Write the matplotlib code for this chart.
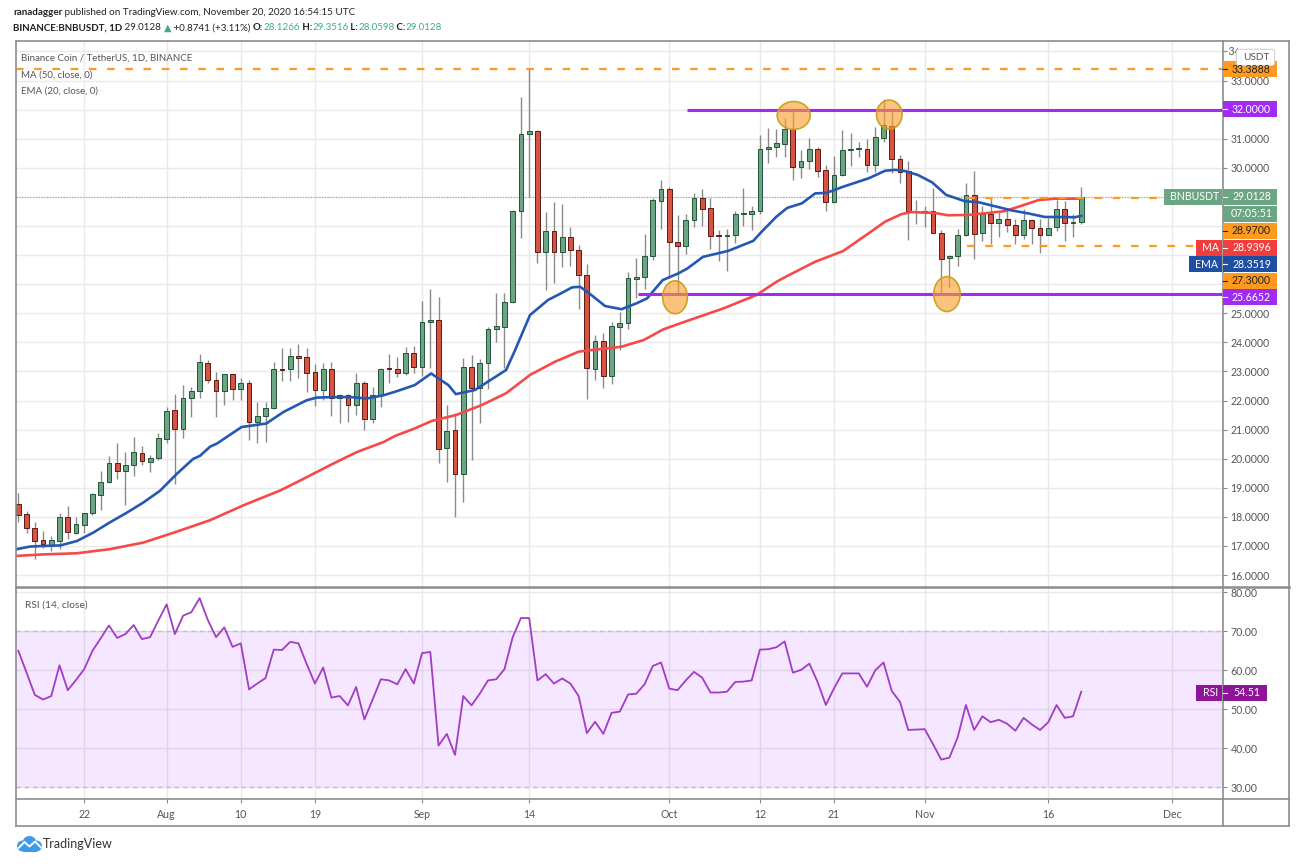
import numpy as np
import pandas as pd
import matplotlib
matplotlib.use("Agg")
import matplotlib.pyplot as plt
from matplotlib.patches import Rectangle, Ellipse, Circle, FancyBboxPatch
from matplotlib.lines import Line2D
from matplotlib.transforms import Bbox

plt.rcParams['font.family'] = ['Lato', 'DejaVu Sans']

# ---------------- data ----------------
start_date = "2020-07-14"

opens = [18.44, 18.09, 17.63, 17.19, 17.05, 17.17, 18.01, 17.46, 17.72, 18.12,
         18.76, 19.20, 19.84, 19.57, 19.77, 20.19, 19.90, 20.02, 20.68, 21.68,
         21.02, 22.09, 22.33, 23.30, 22.72, 22.32, 22.90, 22.39, 22.62, 21.26,
         21.47, 21.76, 23.08, 23.08, 23.52, 23.48, 22.99, 22.36, 23.07, 22.10,
         22.18, 21.84, 22.59, 21.38, 22.18, 23.10, 23.07, 22.93, 23.62, 23.14,
         24.69, 24.77, 20.37, 20.98, 19.46, 23.14, 22.42, 23.28, 24.47, 24.54,
         25.38, 28.50, 31.17, 31.27, 27.12, 27.84, 27.12, 27.61, 27.18, 26.30,
         23.10, 24.05, 22.84, 24.54, 24.68, 26.17, 26.23, 26.98, 28.87, 29.27,
         27.46, 27.32, 28.19, 28.97, 28.62, 27.68, 27.66, 27.69, 28.40, 28.40,
         28.53, 30.64, 30.73, 30.83, 31.32, 30.04, 30.25, 30.65, 29.92, 28.81,
         29.76, 30.60, 30.64, 30.65, 30.10, 31.02, 31.45, 30.30, 29.89, 28.48,
         28.48, 28.53, 27.77, 26.91, 26.98, 27.70, 29.05, 27.76, 28.42, 28.11,
         28.25, 28.03, 27.69, 28.22, 27.94, 27.69, 27.96, 28.57, 28.11, 28.1266]

highs = [18.82, 18.21, 17.81, 17.52, 17.34, 18.13, 18.38, 17.98, 18.15, 18.82,
         19.59, 20.08, 20.53, 20.22, 20.74, 20.45, 20.12, 20.89, 21.77, 22.23,
         22.55, 22.48, 23.61, 23.40, 22.99, 22.92, 22.92, 22.76, 22.72, 21.95,
         21.95, 23.33, 23.79, 23.79, 23.93, 23.79, 23.25, 23.30, 23.33, 22.24,
         22.24, 22.95, 22.66, 22.47, 23.13, 23.60, 23.51, 23.83, 23.89, 25.42,
         25.82, 25.55, 21.84, 21.56, 23.45, 23.56, 23.43, 24.54, 25.69, 25.69,
         28.55, 32.45, 33.3888, 31.30, 28.47, 28.84, 28.75, 27.98, 27.35, 26.70,
         24.25, 24.31, 24.71, 25.05, 26.43, 26.89, 27.72, 28.95, 29.58, 29.35,
         28.39, 28.42, 29.13, 29.27, 28.97, 27.86, 27.89, 28.53, 29.29, 28.70,
         31.13, 31.36, 31.33, 31.70, 31.97, 30.61, 31.02, 30.73, 30.10, 30.42,
         31.30, 31.19, 30.90, 30.98, 31.42, 32.37, 31.97, 30.44, 30.25, 28.89,
         28.70, 29.29, 27.85, 27.00, 27.90, 29.48, 29.88, 28.68, 28.97, 28.51,
         28.57, 28.23, 28.57, 28.24, 28.25, 28.28, 28.91, 28.85, 28.40, 29.3516]

lows = [17.83, 17.43, 16.57, 16.94, 16.83, 16.91, 17.23, 17.40, 17.46, 18.06,
        18.24, 19.18, 19.30, 18.41, 19.41, 19.77, 19.53, 19.94, 20.54, 19.13,
        20.70, 21.43, 22.09, 22.60, 21.43, 21.84, 22.01, 22.01, 20.63, 20.54,
        20.57, 21.70, 22.66, 22.68, 22.76, 22.29, 21.81, 22.01, 21.46, 21.23,
        21.26, 21.49, 20.98, 21.23, 21.78, 22.59, 22.80, 22.88, 22.95, 22.85,
        23.11, 19.87, 19.21, 17.98, 18.52, 19.97, 21.24, 22.39, 24.02, 23.11,
        25.35, 27.58, 29.01, 26.72, 25.80, 26.03, 26.58, 26.64, 25.14, 22.07,
        22.70, 22.44, 22.57, 23.75, 24.45, 25.51, 25.85, 26.83, 27.89, 26.20,
        25.68, 27.04, 27.96, 28.00, 27.21, 26.81, 26.47, 27.40, 28.00, 27.86,
        28.42, 30.18, 30.38, 30.38, 29.58, 29.64, 29.95, 29.70, 28.50, 28.78,
        29.72, 30.07, 30.38, 29.87, 29.87, 30.90, 29.81, 29.47, 27.52, 28.06,
        27.97, 27.75, 25.70, 25.91, 26.64, 27.66, 26.87, 27.48, 27.37, 27.63,
        27.79, 27.37, 27.54, 27.37, 27.06, 27.68, 27.84, 27.48, 27.63, 28.0598]

closes = [18.07, 17.63, 17.17, 17.07, 17.19, 18.01, 17.48, 17.75, 18.13, 18.78,
          19.21, 19.84, 19.57, 19.78, 20.22, 19.91, 20.02, 20.70, 21.63, 21.02,
          22.08, 22.32, 23.32, 22.72, 22.32, 22.90, 22.39, 22.62, 21.26, 21.47,
          21.76, 23.10, 23.05, 23.53, 23.46, 22.95, 22.36, 23.07, 22.09, 22.18,
          21.84, 22.59, 21.38, 22.18, 23.10, 23.07, 22.93, 23.62, 23.14, 24.69,
          24.77, 20.35, 20.96, 19.46, 23.14, 22.42, 23.28, 24.45, 24.56, 25.40,
          28.52, 31.17, 31.27, 27.12, 27.84, 27.09, 27.61, 27.18, 26.32, 23.11,
          24.05, 22.84, 24.56, 24.68, 26.20, 26.23, 26.98, 28.89, 29.26, 27.44,
          27.32, 28.21, 28.97, 28.59, 27.65, 27.65, 27.70, 28.40, 28.44, 28.53,
          30.65, 30.73, 30.85, 31.32, 30.04, 30.25, 30.65, 29.90, 28.84, 29.76,
          30.61, 30.64, 30.67, 30.10, 31.05, 31.47, 30.30, 29.87, 28.50, 28.52,
          28.53, 27.77, 26.87, 26.98, 27.70, 29.05, 27.74, 28.42, 28.11, 28.25,
          28.05, 27.69, 28.22, 27.94, 27.69, 27.94, 28.57, 28.11, 28.14, 29.0128]

rsi_vals = [65.0, 59.4, 53.7, 52.5, 53.4, 61.3, 54.9, 57.5, 60.3, 65.0,
            68.2, 71.5, 68.3, 69.3, 71.6, 68.0, 68.5, 72.8, 76.9, 69.3,
            74.0, 74.9, 78.5, 72.9, 68.5, 71.0, 66.0, 66.9, 55.1, 56.6,
            58.0, 65.3, 65.2, 67.3, 66.9, 61.6, 56.6, 60.7, 53.0, 53.4,
            51.0, 55.7, 47.4, 52.5, 57.7, 57.4, 56.4, 60.3, 56.6, 64.4,
            64.7, 40.7, 43.7, 38.3, 53.4, 51.0, 54.0, 57.4, 57.7, 60.3,
            68.5, 73.4, 73.4, 57.4, 59.0, 56.6, 57.9, 56.6, 53.4, 43.9,
            46.8, 43.7, 49.1, 49.4, 53.8, 54.0, 56.4, 61.1, 62.0, 55.3,
            54.9, 57.4, 59.6, 58.1, 54.3, 54.3, 54.5, 57.0, 57.1, 57.4,
            65.3, 65.4, 65.9, 67.4, 59.4, 60.1, 61.7, 57.0, 51.1, 55.4,
            59.2, 59.2, 59.2, 55.8, 60.0, 62.0, 54.7, 51.9, 44.7, 44.8,
            44.9, 41.1, 37.1, 37.6, 42.8, 51.1, 44.7, 48.2, 46.7, 47.3,
            46.3, 44.5, 47.8, 46.1, 44.7, 46.7, 51.1, 47.8, 48.2, 54.51]

# EMA(20) and MA(50): (day index from start, value)
ema_points = [(-0.2, 16.89), (1.4, 16.98), (3.0, 17.00), (5.1, 17.02), (7.1, 17.17),
              (9.1, 17.46), (11.1, 17.81), (13.2, 18.15), (15.2, 18.50), (17.2, 18.90),
              (19.2, 19.47), (21.2, 19.99), (22.05, 20.10), (23.3, 20.42), (24.1, 20.52),
              (27.1, 21.09), (30.1, 21.21), (32.2, 21.61), (35.0, 22.01), (36.2, 22.10),
              (38.2, 22.12), (40.3, 22.12), (42.3, 22.07), (44.3, 22.18), (45.7, 22.30),
              (48.1, 22.53), (50.1, 22.93), (52.2, 22.53), (53.1, 22.22), (55.4, 22.36),
              (57.0, 22.65), (59.2, 23.05), (60.3, 23.74), (62.1, 24.94), (64.3, 25.46),
              (65.9, 25.69), (67.2, 25.89), (68.2, 25.91), (69.4, 25.66), (71.2, 25.25),
              (73.2, 25.14), (75.0, 25.34), (76.3, 25.51), (78.2, 26.14), (80.1, 26.37),
              (81.2, 26.54), (83.1, 26.94), (85.2, 27.08), (86.2, 27.15), (89.2, 27.49),
              (90.2, 27.80), (92.0, 28.32), (93.3, 28.62), (95.1, 28.78), (96.7, 29.12),
              (98.1, 29.14), (100.1, 29.35), (103.2, 29.64), (105.2, 29.90), (106.4, 29.93),
              (107.6, 29.89), (109.2, 29.75), (110.9, 29.50), (112.6, 29.07), (114.9, 28.85),
              (116.5, 28.82), (118.5, 28.68), (120.5, 28.54), (122.6, 28.43), (124.6, 28.31),
              (126.6, 28.31), (128.2, 28.30), (129.0, 28.35)]

ma_points = [(-0.2, 16.66), (3.0, 16.71), (7.1, 16.75), (11.1, 16.89), (15.2, 17.12),
             (19.2, 17.49), (23.3, 17.89), (27.5, 18.42), (31.8, 18.91), (34.2, 19.25),
             (38.2, 19.83), (41.1, 20.23), (44.3, 20.57), (45.7, 20.78), (48.1, 21.04),
             (50.2, 21.30), (53.1, 21.50), (56.2, 21.84), (59.2, 22.25), (62.1, 22.88),
             (65.1, 23.33), (68.0, 23.68), (69.4, 23.73), (73.2, 23.85), (75.9, 24.08),
             (78.3, 24.45), (81.5, 24.77), (85.6, 25.17), (89.6, 25.63), (92.0, 26.08),
             (93.3, 26.28), (96.7, 26.77), (100.1, 27.14), (103.2, 27.75), (105.2, 28.15),
             (107.2, 28.41), (108.4, 28.48), (110.0, 28.46), (111.2, 28.45), (112.8, 28.37),
             (115.3, 28.38), (117.7, 28.45), (119.7, 28.51), (121.8, 28.70), (123.8, 28.89),
             (125.8, 28.94), (129.0, 28.94)]

date_tick_dates = ["2020-07-22", "2020-08-01", "2020-08-10", "2020-08-19", "2020-09-01",
                   "2020-09-14", "2020-10-01", "2020-10-12", "2020-10-21", "2020-11-01",
                   "2020-11-16", "2020-12-01"]
date_tick_labels = ["22", "Aug", "10", "19", "Sep", "14", "Oct", "12", "21", "Nov", "16", "Dec"]

price_ticks = list(range(16, 35))
hidden_price_labels = [26, 27, 28, 29, 32]   # covered by the value tags in the original
rsi_ticks = [30, 40, 50, 60, 70, 80]

# drawn levels: (price, start day index)
level_top = 33.3888
level_res = (32.0, 81.2)
level_sup = (25.6652, 75.2)
range_hi = (28.97, 115.1)
range_lo = (27.30, 115.1)
last_price = 29.0128
ma_last = 28.9396
ema_last = 28.3519
rsi_last = 54.51
countdown = "07:05:51"
# highlighted touches: (day index, price, width days, height price)
circles = [(79.7, 25.55, 3.0, 1.13), (94.1, 31.80, 4.0, 0.96),
           (105.7, 31.83, 3.1, 1.0), (112.7, 25.66, 3.2, 1.2)]

# ---------------- figure ----------------
W, H = 1308, 867
fig = plt.figure(figsize=(W / 100, H / 100), dpi=100)
fig.patch.set_facecolor('white')


def fx(px):
    return px / W


def fy(py):
    return 1 - py / H


PL, PR = 16, 1223
PT, PM, PB, FB, FR = 40.7, 587.3, 799.3, 825.7, 1289

ax = fig.add_axes([fx(PL), fy(PM), (PR - PL) / W, (PM - PT) / H])
axr = fig.add_axes([fx(PL), fy(PB), (PR - PL) / W, (PB - PM) / H], sharex=ax)

o = np.array(opens); h = np.array(highs); l = np.array(lows); c = np.array(closes)
x = np.arange(len(c))
start = pd.Timestamp(start_date)
tick_pos = [(pd.Timestamp(d) - start).days for d in date_tick_dates]

GRID = '#e9e9e9'
TXT = '#555555'
for a in (ax, axr):
    a.set_facecolor('white')
    for s in a.spines.values():
        s.set_visible(False)
    a.set_axisbelow(True)
    a.grid(True, color=GRID, lw=1.0)

ax.set_xlim(-0.28, 146.2)
ax.set_ylim(15.58, 34.37)
axr.set_ylim(26.92, 81.28)

# candles
up = c >= o
GREEN, GREEN_E = '#6ba583', '#225437'
RED, RED_E = '#d75442', '#5b1a13'
ax.vlines(x, l, h, color='#8a8a8a', lw=1.0, zorder=2)
body_lo = np.minimum(o, c)
body_h = np.maximum(np.abs(c - o), 0.04)
ax.bar(x[up], body_h[up], bottom=body_lo[up], width=0.58, color=GREEN,
       edgecolor=GREEN_E, lw=0.7, zorder=3)
ax.bar(x[~up], body_h[~up], bottom=body_lo[~up], width=0.58, color=RED,
       edgecolor=RED_E, lw=0.7, zorder=3)

# moving averages
ma_x, ma_y = zip(*ma_points)
ema_x, ema_y = zip(*ema_points)
ax.plot(ma_x, ma_y, color='#f44a4a', lw=1.9, zorder=4)
ax.plot(ema_x, ema_y, color='#2458b3', lw=1.9, zorder=4)

# levels
ORANGE = '#ff9a1f'
PURPLE = '#a12bf2'
xmax = 146.2
ax.hlines(level_top, -0.28, xmax, color=ORANGE, lw=1.6, linestyles=(0, (3.4, 4.8)), zorder=5)
ax.hlines(level_res[0], level_res[1], xmax, color=PURPLE, lw=2.2, zorder=5)
ax.hlines(level_sup[0], level_sup[1], xmax, color=PURPLE, lw=2.2, zorder=5)
ax.hlines(range_hi[0], range_hi[1], xmax, color=ORANGE, lw=1.6, linestyles=(0, (3.4, 4.8)), zorder=5)
ax.hlines(range_lo[0], range_lo[1], xmax, color=ORANGE, lw=1.6, linestyles=(0, (3.4, 4.8)), zorder=5)
ax.axhline(last_price, color='#7fae95', lw=0.8, ls=(0, (1, 1.5)), zorder=1.5)

for (cx, cy, ew, eh) in circles:
    ax.add_patch(Ellipse((cx, cy), ew, eh, facecolor=(0.98, 0.62, 0.18, 0.62),
                         edgecolor=(0.80, 0.62, 0.12, 0.95), lw=1.2, zorder=6))

# price axis ticks
ax.yaxis.tick_right()
ax.set_yticks(price_ticks)
ax.set_yticklabels(["" if (v in hidden_price_labels or v == 34) else f"{v:.4f}" for v in price_ticks])
ax.tick_params(axis='y', length=3, color='#888888', labelcolor=TXT, labelsize=7.6, pad=2.5)
ax.tick_params(axis='x', bottom=False, labelbottom=False)
# top label mostly hidden behind the currency box, as in the original
top_lbl = ax.text(1.0, 34.0, "  34", transform=ax.get_yaxis_transform(),
                  fontsize=7.6, color=TXT, ha='left', va='center', zorder=9, clip_on=True)
top_lbl.set_clip_box(Bbox([[0, 0], [1237.5, H]]))

# RSI panel
axr.axhspan(30, 70, facecolor='#9915ff', alpha=0.1, lw=0, zorder=1)
axr.axhline(70, color='#c3bccb', lw=1.0, ls=(0, (3, 3)), zorder=1.5)
axr.axhline(30, color='#c3bccb', lw=1.0, ls=(0, (3, 3)), zorder=1.5)
axr.plot(x, rsi_vals, color='#a23cc4', lw=1.3, zorder=3)
axr.yaxis.tick_right()
axr.set_yticks(rsi_ticks)
axr.set_yticklabels([f"{v:.2f}" for v in rsi_ticks])
axr.tick_params(axis='y', length=3, color='#888888', labelcolor=TXT, labelsize=7.6, pad=2.5)
axr.set_xticks(tick_pos)
axr.set_xticklabels(date_tick_labels)
axr.tick_params(axis='x', length=3, color='#888888', labelcolor=TXT, labelsize=7.6, pad=4)

# ---------------- frame lines ----------------
def fline(x0, y0, x1, y1, lw=1.2, color='#8c8c8c'):
    fig.add_artist(Line2D([fx(x0), fx(x1)], [fy(y0), fy(y1)], transform=fig.transFigure,
                          color=color, lw=lw, zorder=8))

fline(PL, PT, FR, PT)
fline(PL, FB, FR, FB)
fline(PL, PT, PL, FB)
fline(FR, PT, FR, FB)
fline(PR, PT, PR, FB)
fline(PL, PM, FR, PM, lw=1.8)
fline(PL, PB, FR, PB)

# ---------------- tags on price scale ----------------
def tag(x0, x1, yc, text, bg, fg, hgt=16.0, tick=False):
    fig.add_artist(Rectangle((fx(x0), fy(yc + hgt / 2)), (x1 - x0) / W, hgt / H,
                             transform=fig.transFigure, facecolor=bg, edgecolor='none', zorder=10))
    if tick:
        fig.add_artist(Line2D([fx(x0), fx(x0 + 4)], [fy(yc), fy(yc)], transform=fig.transFigure,
                              color=fg, lw=0.8, zorder=11))
    fig.text(fx((x0 + x1) / 2 + 1.5), fy(yc), text, color=fg, fontsize=7.6,
             ha='center', va='center', zorder=11)

TAG_GREEN = '#6ba583'
TAG_RED = '#f23d3d'
TAG_BLUE = '#1f4fa5'
tag(1223, 1277, 69.3, f"{level_top:.4f}", ORANGE, '#222222', tick=True)
tag(1223, 1277, 109.3, f"{level_res[0]:.4f}", PURPLE, 'white', tick=True)
tag(1164, 1222, 196.7, "BNBUSDT", TAG_GREEN, 'white')
tag(1223, 1277, 196.7, f"{last_price:.4f}", TAG_GREEN, 'white', tick=True)
tag(1223, 1277, 213.5, countdown, TAG_GREEN, 'white')
tag(1223, 1277, 230.8, f"{range_hi[0]:.4f}", ORANGE, '#222222', tick=True)
tag(1196, 1222, 247.6, "MA", TAG_RED, 'white')
tag(1223, 1277, 247.6, f"{ma_last:.4f}", TAG_RED, 'white', tick=True)
tag(1189, 1222, 264.1, "EMA", TAG_BLUE, 'white')
tag(1223, 1277, 264.1, f"{ema_last:.4f}", TAG_BLUE, 'white', tick=True)
tag(1223, 1277, 280.7, f"{range_lo[0]:.4f}", ORANGE, '#222222', tick=True)
tag(1223, 1277, 297.3, f"{level_sup[0]:.4f}", PURPLE, 'white', tick=True)
tag(1196, 1222, 692.7, "RSI", '#8e1599', 'white')
tag(1223, 1267, 692.7, f"{rsi_last:.2f}", '#8e1599', 'white', tick=True)

# USDT box
fig.add_artist(FancyBboxPatch((fx(1239), fy(64)), 33 / W, 13 / H,
                              boxstyle="round,pad=0.002,rounding_size=0.003",
                              transform=fig.transFigure, facecolor='white',
                              edgecolor='#d0d0d0', lw=0.8, zorder=10))
fig.text(fx(1256), fy(57.3), "USDT", fontsize=7.2, color=TXT, ha='center', va='center', zorder=11)

# ---------------- text runs ----------------
renderer = fig.canvas.get_renderer()


def runs_width(runs, size):
    tot = 0
    for s, kw in runs:
        t = fig.text(0, 0, s, fontsize=size, **kw)
        tot += t.get_window_extent(renderer).width
        t.remove()
    return tot


def draw_runs(x_px, y_px, runs, target_w, base=10.0, size=None):
    if size is None:
        size = base * target_w / runs_width(runs, base)
    xx = x_px
    for s, kw in runs:
        t = fig.text(fx(xx), fy(y_px), s, fontsize=size, va='center', ha='left', zorder=12, **kw)
        xx += t.get_window_extent(renderer).width
    return size


DARK = '#222222'
TEAL = '#3fae7f'
B = dict(color=DARK, fontweight='bold')
N = dict(color=DARK)
T = dict(color=TEAL)
draw_runs(13, 12.5, [("ranadagger", B),
                     (" published on TradingView.com, November 20, 2020 16:54:15 UTC", N)], 341)
draw_runs(13, 28.0, [("BINANCE:BNBUSDT, 1D", B), (" 29.0128 ", N),
                     ("\u25b2", dict(color=TEAL, family=['DejaVu Sans'])),
                     (" +0.8741 (+3.11%) ", N), ("O:", B), ("28.1266", T),
                     (" H:", B), ("29.3516", T), (" L:", B), ("28.0598", T),
                     (" C:", B), ("29.0128", T)], 430)

LG = dict(color=TXT)
sz = draw_runs(21, 58.0, [("Binance Coin / TetherUS, 1D, BINANCE", LG)], 172)
draw_runs(21, 75.0, [("MA (50, close, 0)", LG)], 0, size=sz)
draw_runs(21, 91.5, [("EMA (20, close, 0)", LG)], 0, size=sz)
draw_runs(25, 605.0, [("RSI (14, close)", LG)], 0, size=sz * 1.05)

# ---------------- logo ----------------
lax = fig.add_axes([fx(16), fy(852), 27 / W, 18 / H])
lax.set_xlim(0, 27)
lax.set_ylim(0, 18)
lax.axis('off')
LB = '#3c9be8'
for (cx_, cy_, r_) in [(6.5, 6.0, 5.5), (13.5, 9.0, 7.0), (20.5, 6.0, 5.5)]:
    lax.add_patch(Circle((cx_, cy_), r_, color=LB, lw=0))
lax.add_patch(Rectangle((6.5, 0.5), 14, 6, color=LB, lw=0))
lax.plot([2.5, 8.5, 13.5, 19.0, 25.0], [4.0, 10.0, 5.5, 10.5, 4.5], color='white', lw=1.4,
         solid_capstyle='round', solid_joinstyle='round')
draw_runs(43, 843.5, [("TradingView", dict(color='#333333'))], 70)

fig.savefig("out.png", dpi=100, facecolor='white')
